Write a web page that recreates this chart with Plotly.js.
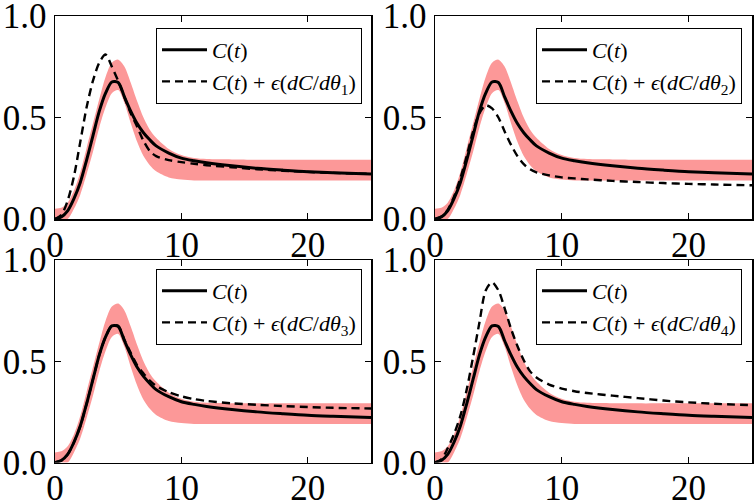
<!DOCTYPE html>
<html><head><meta charset="utf-8">
<script src="https://cdn.plot.ly/plotly-3.0.1.min.js"></script>
<style>html,body{margin:0;padding:0;background:#fff}#chart{width:755px;height:501px}</style>
</head><body><div id="chart"></div>
<script>
// time grid
const t = [0,0.5,1,1.5,2,2.5,3,3.5,4,4.5,5,5.5,6,6.5,7,7.5,8,9,10,11,12,14,16,18,20,22,25];
// C(t)
const C = [0,0.01,0.04,0.10,0.18,0.29,0.41,0.53,0.62,0.675,0.672,0.60,0.53,0.47,0.425,0.39,0.36,0.325,0.30,0.287,0.277,0.262,0.25,0.241,0.233,0.228,0.222];
// shaded band
const bandUpper = [0.05,0.055,0.08,0.14,0.23,0.35,0.47,0.59,0.70,0.77,0.785,0.75,0.67,0.58,0.50,0.44,0.40,0.345,0.315,0.30,0.295,0.293,0.292,0.292,0.292,0.292,0.292];
const bandLower = [0,0,0,0.05,0.12,0.22,0.33,0.45,0.55,0.62,0.635,0.57,0.47,0.38,0.31,0.265,0.235,0.205,0.195,0.19,0.19,0.19,0.19,0.19,0.19,0.19,0.19];
// perturbed curves
const dTheta1 = [0,0.02,0.09,0.21,0.38,0.55,0.68,0.77,0.81,0.75,0.68,0.60,0.52,0.455,0.385,0.335,0.31,0.29,0.28,0.272,0.265,0.255,0.245,0.238,0.232,0.227,0.222];
const dTheta2 = [0,0.012,0.045,0.11,0.20,0.31,0.43,0.52,0.56,0.545,0.50,0.43,0.365,0.31,0.27,0.245,0.23,0.215,0.205,0.20,0.195,0.188,0.182,0.177,0.173,0.17,0.166];
const dTheta3 = [0,0.01,0.04,0.10,0.18,0.29,0.41,0.53,0.62,0.675,0.675,0.605,0.54,0.48,0.44,0.405,0.378,0.347,0.327,0.313,0.304,0.292,0.285,0.279,0.274,0.27,0.267];
const dTheta4 = [0,0.015,0.07,0.14,0.23,0.36,0.52,0.69,0.85,0.89,0.85,0.76,0.66,0.575,0.505,0.45,0.42,0.385,0.365,0.352,0.343,0.33,0.318,0.306,0.297,0.29,0.283];
// labels
const solidLabel = '<i>C</i>(<i>t</i>)';
const dashedLabels = [
  '<i>C</i>(<i>t</i>) + <i>ϵ</i>(<i>dC</i>/<i>dθ</i><sub>1</sub>)',
  '<i>C</i>(<i>t</i>) + <i>ϵ</i>(<i>dC</i>/<i>dθ</i><sub>2</sub>)',
  '<i>C</i>(<i>t</i>) + <i>ϵ</i>(<i>dC</i>/<i>dθ</i><sub>3</sub>)',
  '<i>C</i>(<i>t</i>) + <i>ϵ</i>(<i>dC</i>/<i>dθ</i><sub>4</sub>)'
];
const xTicks = [0,10,20];
const yTicks = [0,0.5,1];
const yTickText = ['0.0','0.5','1.0'];

const dashed = [dTheta1,dTheta2,dTheta3,dTheta4];
const W = 755, H = 501;
const band = 'rgb(252,152,152)';
const traces = [];
for (let i = 0; i < 4; i++) {
  const ax = i === 0 ? '' : String(i+1);
  const xa = 'x'+ax, ya = 'y'+ax, lg = 'legend'+ax;
  traces.push({x:t,y:bandLower,xaxis:xa,yaxis:ya,mode:'lines',line:{width:0,color:band,shape:'spline',smoothing:0.8},showlegend:false,hoverinfo:'skip'});
  traces.push({x:t,y:bandUpper,xaxis:xa,yaxis:ya,mode:'lines',fill:'tonexty',fillcolor:band,line:{width:0,color:band,shape:'spline',smoothing:0.8},showlegend:false,hoverinfo:'skip'});
  traces.push({x:t,y:C,xaxis:xa,yaxis:ya,mode:'lines',name:solidLabel,legend:lg,line:{color:'black',width:3,shape:'spline',smoothing:0.8}});
  traces.push({x:t,y:dashed[i],xaxis:xa,yaxis:ya,mode:'lines',name:dashedLabels[i],legend:lg,line:{color:'black',width:2.4,dash:'8px,5px',shape:'spline',smoothing:0.8}});
}
const tickFont = {family:'Liberation Serif, serif', size:35, color:'black'};
function xax(d){return {domain:d,range:[0,25],tickvals:xTicks,ticks:'inside',ticklen:6,tickwidth:1,tickcolor:'black',showline:true,linecolor:'black',linewidth:1.5,mirror:'ticks',showgrid:false,zeroline:false,tickfont:tickFont,automargin:false,ticklabeloverflow:'allow',ticklabelstandoff:-6};}
function yax(d){return {domain:d,range:[0,1],tickvals:yTicks,ticktext:yTickText,ticks:'inside',ticklen:6,tickwidth:1,tickcolor:'black',showline:true,linecolor:'black',linewidth:1.5,mirror:'ticks',showgrid:false,zeroline:false,tickfont:tickFont,automargin:false,ticklabeloverflow:'allow'};}
const xL=[55/W,371/W], xR=[435/W,752/W];
const yT=[1-219/H,1-16/H], yB=[1-462.5/H,1-260/H];
const legFont = {family:'Liberation Serif, serif', size:22, color:'black'};
function leg(x,y){return {x:x,y:y,xanchor:'right',yanchor:'top',xref:'paper',yref:'paper',bgcolor:'white',bordercolor:'black',borderwidth:1,font:legFont,tracegroupgap:0,traceorder:'normal',itemwidth:45};}
const layout = {
  width:W,height:H,margin:{l:0,r:0,t:0,b:0},paper_bgcolor:'white',plot_bgcolor:'white',
  xaxis:Object.assign(xax(xL),{anchor:'y'}), yaxis:Object.assign(yax(yT),{anchor:'x'}),
  xaxis2:Object.assign(xax(xR),{anchor:'y2'}), yaxis2:Object.assign(yax(yT),{anchor:'x2'}),
  xaxis3:Object.assign(xax(xL),{anchor:'y3'}), yaxis3:Object.assign(yax(yB),{anchor:'x3'}),
  xaxis4:Object.assign(xax(xR),{anchor:'y4'}), yaxis4:Object.assign(yax(yB),{anchor:'x4'}),
  legend:leg(362/W,1-28/H), legend2:leg(742/W,1-28/H),
  legend3:leg(362/W,1-269/H), legend4:leg(742/W,1-269/H),
  showlegend:true
};
Plotly.newPlot('chart',traces,layout,{staticPlot:true});
</script></body></html>
